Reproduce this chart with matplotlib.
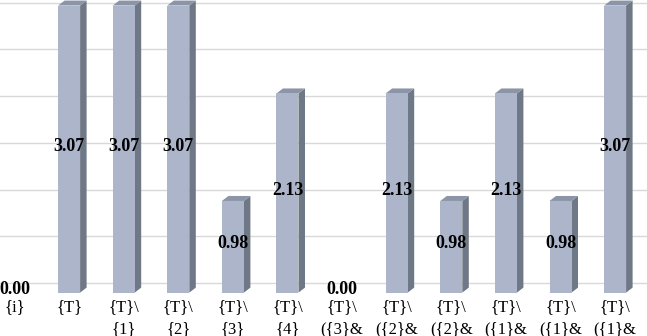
import matplotlib
matplotlib.use("Agg")
import matplotlib.pyplot as plt
from matplotlib.patches import Polygon, Rectangle
from matplotlib.transforms import ScaledTranslation

# chart data
categories = ["{i}", "{T}", "{T}\\\n{1}", "{T}\\\n{2}", "{T}\\\n{3}", "{T}\\\n{4}",
              "{T}\\\n({3}&", "{T}\\\n({2}&", "{T}\\\n({2}&",
              "{T}\\\n({1}&", "{T}\\\n({1}&", "{T}\\\n({1}&"]
values = [0.00, 3.07, 3.07, 3.07, 0.98, 2.13, 0.00, 2.13, 0.98, 2.13, 0.98, 3.07]
grid_values = [0.0, 0.5, 1.0, 1.5, 2.0, 2.5, 3.0, 3.5]

FRONT = "#adb5cb"
SIDE = "#6f7886"
TOP = "#8c95a7"
GRID = "#d9d9d9"

W, H = 647, 336
fig = plt.figure(figsize=(W / 100, H / 100), dpi=100)
base_px = 292.6          # front baseline, px from top
ax = fig.add_axes([0, (H - base_px) / H, 1, base_px / H])
ax.set_xlim(-14.5 / 54.6, (W - 14.5) / 54.6)
ax.set_ylim(0, base_px / 93.5)
for s in ax.spines.values():
    s.set_visible(False)
ax.set_yticks([])

px_x = 54.6   # px per category
px_y = 93.5   # px per unit
dx = 6.5 / px_x
dy = 5.0 / px_y
bw = 22 / px_x

# back wall gridlines
back = ax.transData + ScaledTranslation(0, 9.6 / 100, fig.dpi_scale_trans)
for g in grid_values:
    ax.plot([-1, len(values) + 1], [g, g], color=GRID, lw=1.0, transform=back, zorder=1)

lbl = ax.transData + ScaledTranslation(0, 3 / 100, fig.dpi_scale_trans)
for i, v in enumerate(values):
    x0 = i - bw / 2
    x1 = i + bw / 2
    if v > 0:
        ax.add_patch(Polygon([(x1, 0), (x1 + dx, dy), (x1 + dx, v + dy), (x1, v)],
                             closed=True, fc=SIDE, ec="none", zorder=3))
        ax.add_patch(Polygon([(x0, v), (x0 + dx, v + dy), (x1 + dx, v + dy), (x1, v)],
                             closed=True, fc=TOP, ec="none", zorder=3))
        ax.add_patch(Rectangle((x0, 0), bw, v, fc=FRONT, ec="none", zorder=4))
    ax.text(i, v / 2, f"{v:.2f}", ha="center", va="center", transform=lbl,
            fontsize=13, fontweight="bold", family="Liberation Serif", zorder=6)

ax.set_xticks(range(len(categories)))
ax.set_xticklabels(categories, family="Liberation Serif", fontsize=12, linespacing=1.5)
ax.tick_params(axis="x", length=0, pad=5)

plt.savefig("out.png", dpi=100)
